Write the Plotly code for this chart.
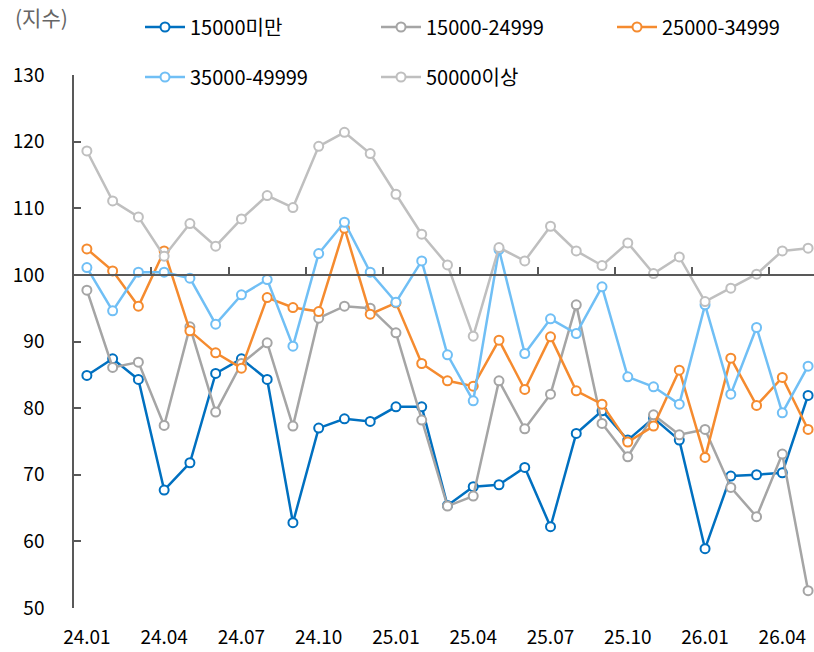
import plotly.graph_objects as go

# 월별 지수 (24.01 ~ 26.05)
months = ["24.01", "24.02", "24.03", "24.04", "24.05", "24.06", "24.07", "24.08", "24.09", "24.10",
          "24.11", "24.12", "25.01", "25.02", "25.03", "25.04", "25.05", "25.06", "25.07", "25.08",
          "25.09", "25.10", "25.11", "25.12", "26.01", "26.02", "26.03", "26.04", "26.05"]

under_15000 = [84.9, 87.4, 84.3, 67.7, 71.8, 85.2, 87.4, 84.3, 62.8, 77.0,
               78.4, 78.0, 80.2, 80.2, 65.4, 68.2, 68.5, 71.1, 62.2, 76.2,
               79.6, 75.2, 78.5, 75.2, 58.9, 69.8, 70.0, 70.3, 81.9]
r15000_24999 = [97.7, 86.1, 86.9, 77.4, 92.2, 79.4, 86.7, 89.8, 77.3, 93.5,
                95.3, 95.0, 91.3, 78.2, 65.3, 66.8, 84.1, 76.9, 82.1, 95.5,
                77.7, 72.7, 79.0, 76.0, 76.8, 68.1, 63.7, 73.1, 52.6]
r25000_34999 = [103.9, 100.6, 95.3, 103.6, 91.6, 88.3, 86.0, 96.6, 95.1, 94.5,
                107.0, 94.1, 95.8, 86.7, 84.1, 83.3, 90.2, 82.8, 90.7, 82.6,
                80.6, 74.9, 77.3, 85.7, 72.6, 87.5, 80.4, 84.6, 76.8]
r35000_49999 = [101.1, 94.6, 100.4, 100.4, 99.5, 92.6, 97.0, 99.3, 89.3, 103.2,
                107.9, 100.4, 95.9, 102.1, 88.0, 81.1, 103.8, 88.2, 93.4, 91.2,
                98.2, 84.7, 83.2, 80.6, 95.5, 82.1, 92.1, 79.3, 86.3]
over_50000 = [118.6, 111.1, 108.7, 102.8, 107.7, 104.3, 108.4, 111.9, 110.1, 119.3,
              121.4, 118.2, 112.1, 106.1, 101.5, 90.8, 104.1, 102.1, 107.3, 103.6,
              101.4, 104.8, 100.2, 102.7, 96.0, 98.0, 100.1, 103.6, 104.0]

# (이름, 값, 색, 범례 위치 x/y px)
series = [
    ("15000미만", under_15000, "#0070C0", 140, 27),
    ("15000-24999", r15000_24999, "#A5A5A5", 376, 27),
    ("25000-34999", r25000_34999, "#F58B2F", 612, 27),
    ("35000-49999", r35000_49999, "#70BFF5", 140, 77),
    ("50000이상", over_50000, "#BFBFBF", 376, 77),
]

FONT = "Noto Sans CJK KR"
W, H = 814, 652
x = list(range(len(months)))

fig = go.Figure()
legends = {}
for i, (name, vals, color, lx, ly) in enumerate(series):
    key = "legend" if i == 0 else f"legend{i + 1}"
    fig.add_trace(go.Scatter(
        x=x, y=vals, name=name, mode="lines+markers", legend=key,
        line=dict(color=color, width=2.5),
        marker=dict(symbol="circle", size=9, color="white", line=dict(color=color, width=2)),
    ))
    legends[key] = dict(x=lx / W, y=1 - ly / H, xref="container", yref="container",
                        xanchor="left", yanchor="middle", orientation="h",
                        font=dict(family=FONT, size=20, color="#000000"),
                        bgcolor="rgba(0,0,0,0)", itemwidth=40)

# 100 기준선 (눈금 포함)
fig.add_trace(go.Scatter(x=[-0.5, 28.3], y=[100, 100], xaxis="x2", mode="lines",
                         line=dict(color="rgba(0,0,0,0)"), showlegend=False, hoverinfo="skip"))

tick_idx = list(range(0, len(months), 3))

fig.update_layout(
    width=W, height=H,
    margin=dict(l=74, r=0, t=75, b=44, autoexpand=False),
    plot_bgcolor="white", paper_bgcolor="white",
    font=dict(family=FONT, size=19, color="#000000"),
    xaxis=dict(range=[-0.5, 28.23], tickvals=tick_idx, ticktext=[months[i] for i in tick_idx],
               showgrid=False, zeroline=False, showline=False, ticks="",
               ticklabelstandoff=16, tickfont=dict(size=19)),
    xaxis2=dict(overlaying="x", anchor="free", position=0.625, side="top", matches="x",
                showgrid=False, zeroline=False, showline=True, linecolor="#595959", linewidth=1.5,
                ticks="outside", ticklen=7, tickwidth=1.5, tickcolor="#595959",
                tickvals=[2.5 + 3 * k for k in range(9)], showticklabels=False),
    yaxis=dict(range=[50, 130], dtick=10, showgrid=False, zeroline=False,
               showline=True, linecolor="#595959", linewidth=1.5,
               ticks="inside", ticklen=7, tickwidth=1.5, tickcolor="#595959",
               ticklabelstandoff=24, tickfont=dict(size=19)),
    annotations=[dict(text="(지수)", xref="paper", yref="paper", x=-0.082, y=1.108,
                      xanchor="left", yanchor="middle", showarrow=False,
                      font=dict(family=FONT, size=21, color="#666666"))],
    **legends,
)

# 기본 body 여백(8px) 제거
fig.write_html("out.html", config={"displayModeBar": False},
               post_script="document.body.style.margin='0';")
